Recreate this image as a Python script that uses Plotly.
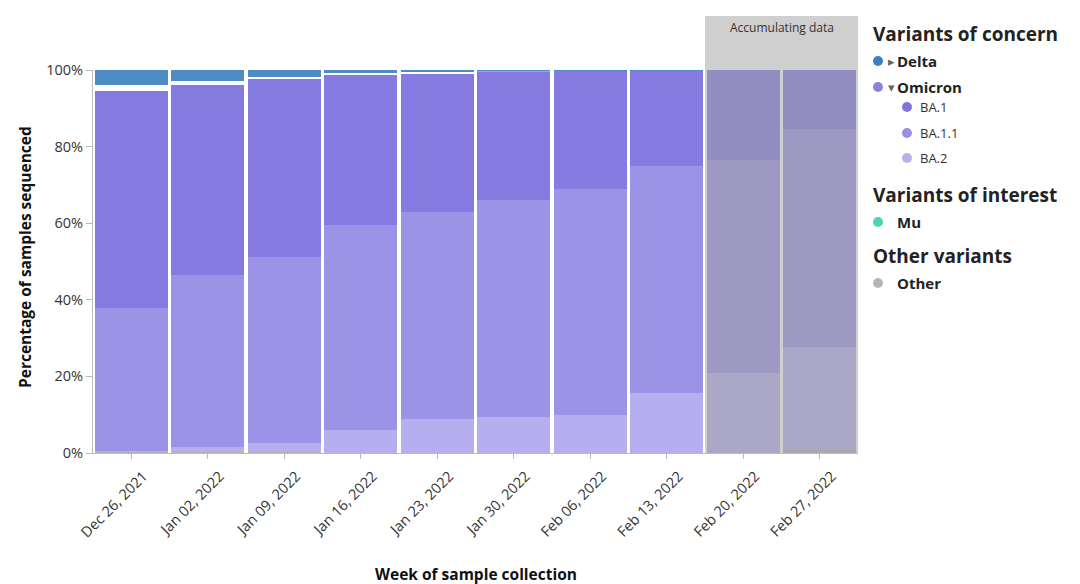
import plotly.graph_objects as go

weeks = ["Dec 26, 2021", "Jan 02, 2022", "Jan 09, 2022", "Jan 16, 2022", "Jan 23, 2022",
         "Jan 30, 2022", "Feb 06, 2022", "Feb 13, 2022", "Feb 20, 2022", "Feb 27, 2022"]

# percent of samples, bottom of the stack first
other = [0.4, 0.2, 0.2, 0.1, 0.1, 0.1, 0.1, 0.1, 0.1, 1.0]
ba2 = [0.1, 1.3, 2.4, 5.8, 8.7, 9.4, 9.7, 15.5, 20.8, 26.8]
ba11 = [37.4, 45.0, 48.6, 53.6, 54.2, 56.5, 59.1, 59.4, 55.6, 56.8]
ba1 = [56.6, 49.7, 46.4, 39.2, 36.0, 33.5, 30.9, 24.9, 23.5, 15.4]
omicron_other = [1.5, 0.9, 0.7, 0.5, 0.5, 0.2, 0.1, 0.05, 0.0, 0.0]
mu = [0.0, 0.0, 0.0, 0.0, 0.0, 0.1, 0.0, 0.0, 0.0, 0.0]
delta = [4.0, 2.9, 1.7, 0.8, 0.5, 0.2, 0.1, 0.05, 0.0, 0.0]

accumulating = ["Feb 20, 2022", "Feb 27, 2022"]

series = [
    ("Other", other, "#b2b2b2"),
    ("BA.2", ba2, "#b6aeee"),
    ("BA.1.1", ba11, "#9b93e6"),
    ("BA.1", ba1, "#857ae0"),
    ("B.1.1.529", omicron_other, "#ffffff"),
    ("Mu", mu, "#48d6b4"),
    ("Delta", delta, "#4d8cc4"),
]

FONT = "Open Sans"

fig = go.Figure()
for name, vals, col in series:
    fig.add_trace(go.Bar(
        x=weeks, y=[v / 100 for v in vals], name=name,
        marker=dict(color=col, line=dict(width=0)),
        hovertemplate="%{x}<br>" + name + ": %{y:.1%}<extra></extra>",
        showlegend=False,
    ))

# plot area as seen on the page (page body adds an 8px offset)
OFF = 8
L, R, T, B = 93, 858, 70, 453
W, H = R - L, B - T

def px(x):
    return (x - L) / W

def py(y):
    return (B - y) / H

n = len(weeks)
x_start = weeks.index(accumulating[0]) / n
fig.add_shape(type="rect", xref="paper", yref="paper",
              x0=x_start, x1=1, y0=0, y1=py(16),
              fillcolor="rgba(160,160,160,0.5)", line=dict(width=0), layer="above")

annotations = [
    dict(text="Accumulating data", x=(x_start + 1) / 2, y=py(27), xref="paper", yref="paper",
         xanchor="center", yanchor="middle", showarrow=False,
         font=dict(size=12, color="#333", family=FONT)),
    dict(text="<b>Percentage of samples sequenced</b>", x=px(25), y=py(257), xref="paper", yref="paper",
         xanchor="center", yanchor="middle", textangle=-90, showarrow=False,
         font=dict(size=15.5, color="#111", family=FONT)),
    dict(text="<b>Week of sample collection</b>", x=0.5, y=py(574), xref="paper", yref="paper",
         xanchor="center", yanchor="middle", showarrow=False,
         font=dict(size=15.5, color="#111", family=FONT)),
]

# legend: headers, top-level items, sub-items
headers = [("Variants of concern", 34), ("Variants of interest", 195), ("Other variants", 256)]
items = [("Delta", "#3a7fc1", 61, "▸"), ("Omicron", "#8c82da", 87, "▾"),
         ("Mu", "#48d6b4", 222, ""), ("Other", "#b5b5b5", 283, "")]
sub_items = [("BA.1", "#8075d6", 107), ("BA.1.1", "#9a90e0", 133), ("BA.2", "#b8b0ea", 158)]

for text, y in headers:
    annotations.append(dict(text="<b>" + text + "</b>", x=px(871), y=py(y), xref="paper", yref="paper",
                            xanchor="left", yanchor="middle", showarrow=False,
                            font=dict(size=19, color="#222", family=FONT)))

def dot(xc, yc, col, r=5):
    fig.add_shape(type="circle", xref="paper", yref="paper", xsizemode="pixel", ysizemode="pixel",
                  xanchor=px(xc), yanchor=py(yc), x0=-r, x1=r, y0=-r, y1=r,
                  fillcolor=col, line=dict(width=0))

for text, col, y, tri in items:
    dot(878, y, col)
    if tri:
        annotations.append(dict(text=tri, x=px(891), y=py(y), xref="paper", yref="paper",
                                xanchor="center", yanchor="middle", showarrow=False,
                                font=dict(size=13, color="#666", family="DejaVu Sans")))
    annotations.append(dict(text="<b>" + text + "</b>", x=px(895), y=py(y), xref="paper", yref="paper",
                            xanchor="left", yanchor="middle", showarrow=False,
                            font=dict(size=15, color="#222", family=FONT)))

for text, col, y in sub_items:
    dot(907, y, col)
    annotations.append(dict(text=text, x=px(918), y=py(y), xref="paper", yref="paper",
                            xanchor="left", yanchor="middle", showarrow=False,
                            font=dict(size=13, color="#333", family=FONT)))

fig.update_layout(
    width=1080, height=584,
    margin=dict(l=L - OFF, r=1080 - R + OFF, t=T - OFF, b=584 - B + OFF),
    barmode="stack", bargap=0.04,
    plot_bgcolor="white", paper_bgcolor="white",
    font=dict(family=FONT, size=14, color="#333"),
    showlegend=False,
    annotations=annotations,
)
fig.update_xaxes(showline=True, linecolor="#bbb", ticks="outside", tickcolor="#bbb", ticklen=5,
                 tickangle=-45, showgrid=False, ticklabelshift=12, ticklabelstandoff=3,
                 tickfont=dict(size=14.5, color="#333"))
fig.update_yaxes(range=[0, 1], tickformat=".0%", dtick=0.2, showline=True, linecolor="#bbb",
                 ticks="outside", tickcolor="#bbb", ticklen=6, showgrid=False, zeroline=False,
                 tickfont=dict(size=14.5, color="#333"))

fig.write_html("out.html")
